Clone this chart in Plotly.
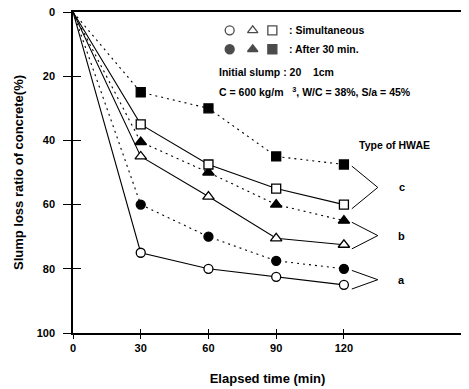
import plotly.graph_objects as go

times = [0, 30, 60, 90, 120]
# Slump loss ratio (%) — HWAE type a, b, c
a_simul = [0, 75, 80, 82.5, 85]
a_after = [0, 60, 70, 77.5, 80]
b_simul = [0, 45, 57.5, 70.5, 72.5]
b_after = [0, 40.5, 50, 60, 65]
c_simul = [0, 35, 47.5, 55, 60]
c_after = [0, 25, 30, 45, 47.5]
x_ticks = [0, 30, 60, 90, 120]
y_ticks = [0, 20, 40, 60, 80, 100]
types = ["a", "b", "c"]
legend_rows = [": Simultaneous", ": After 30 min."]

FONT = "Liberation Sans, Arial, sans-serif"
fig = go.Figure()

series = [
    (a_simul, "circle", "solid", "white"),
    (a_after, "circle", "dot", "black"),
    (b_simul, "triangle-up", "solid", "white"),
    (b_after, "triangle-up", "dot", "black"),
    (c_simul, "square", "solid", "white"),
    (c_after, "square", "dot", "black"),
]
for vals, sym, dash, fill in series:
    fig.add_trace(go.Scatter(
        x=times, y=vals, mode="lines",
        line=dict(color="black", width=1.1, dash="solid" if dash == "solid" else "2px,4px"),
        showlegend=False, hoverinfo="skip"))
    fig.add_trace(go.Scatter(
        x=times[1:], y=vals[1:], mode="markers",
        marker=dict(symbol=sym, size=10 if sym == "triangle-up" else 9,
                    color=fill, line=dict(color="black", width=1.3)),
        showlegend=False, hoverinfo="skip"))

# brackets grouping each type
pairs = [(a_after, a_simul), (b_after, b_simul), (c_after, c_simul)]
for (top, bot), name in zip(pairs, types):
    y0 = top[-1] + 0.5
    y1 = bot[-1] + 1.3
    ym = (y0 + y1) / 2
    fig.add_trace(go.Scatter(
        x=[123.5, 135, 123.5], y=[y0, ym, y1], mode="lines",
        line=dict(color="black", width=1), showlegend=False, hoverinfo="skip"))
    fig.add_annotation(x=145.6, y=ym, text=name, showarrow=False,
                       font=dict(family=FONT, size=11, color="black", weight="bold"))

fig.add_annotation(x=142.5, y=41.5, text="Type of HWAE", showarrow=False,
                   font=dict(family=FONT, size=10.5, color="black", weight="bold"))

# symbol key (legend glyphs)
key_x = [69.4, 79.6, 88.3]
key_syms = ["circle", "triangle-up", "square"]
key_y = [5.7, 11.6]
for row, (ky, fill) in enumerate(zip(key_y, ["white", "black"])):
    fig.add_trace(go.Scatter(
        x=key_x, y=[ky] * 3, mode="markers",
        marker=dict(symbol=key_syms, size=[9, 9, 9], color=fill,
                    line=dict(color="black", width=1.3)),
        showlegend=False, hoverinfo="skip"))
    fig.add_annotation(x=95, y=ky, text=legend_rows[row], showarrow=False, xanchor="left",
                       font=dict(family=FONT, size=10.5, color="black", weight="bold"))

texts = [
    (63.7, 18.7, "Initial slump : 20    1cm"),
    (63.7, 24.9, "C = 600 kg/m   <sup>3</sup>, W/C = 38%, S/a = 45%"),
]
for x, y, t in texts:
    fig.add_annotation(x=x, y=y, text=t, showarrow=False, xanchor="left",
                       font=dict(family=FONT, size=10.5, color="black", weight="bold"))

axis_common = dict(showgrid=False, zeroline=False, linecolor="black", linewidth=1.5,
                   ticks="outside", tickcolor="black", tickwidth=1.2, mirror=True,
                   automargin=False, ticklabeloverflow="allow")
# page body has an 8px default margin: figure is sized/offset to compensate
fig.update_layout(
    width=461, height=381,
    margin=dict(l=65, r=7, t=4, b=56),
    plot_bgcolor="white", paper_bgcolor="white",
    xaxis=dict(range=[0, 172.3], tickvals=x_ticks, ticklen=4,
               tickfont=dict(family=FONT, size=11, color="black", weight="bold"),
               title=dict(text="Elapsed time (min)", standoff=21,
                          font=dict(family=FONT, size=13, color="black", weight="bold")),
               **axis_common),
    yaxis=dict(range=[100, 0], tickvals=y_ticks, ticklen=8, ticklabelstandoff=6,
               tickfont=dict(family=FONT, size=11, color="black", weight="bold"),
               title=dict(text="Slump loss ratio of concrete(%)", standoff=10,
                          font=dict(family=FONT, size=13, color="black", weight="bold")),
               **axis_common),
    xaxis2=dict(range=[0, 172.3], tickvals=x_ticks[1:], ticks="inside", ticklen=4,
                tickcolor="black", tickwidth=1.2, showticklabels=False, showgrid=False,
                zeroline=False, overlaying="x", showline=False),
    yaxis2=dict(range=[100, 0], tickvals=y_ticks[1:-1], ticks="inside", ticklen=8,
                tickcolor="black", tickwidth=1.2, showticklabels=False, showgrid=False,
                zeroline=False, overlaying="y", showline=False),
)
fig.add_trace(go.Scatter(x=[None], y=[None], xaxis="x2", yaxis="y2", showlegend=False))
fig.write_html("out.html")
